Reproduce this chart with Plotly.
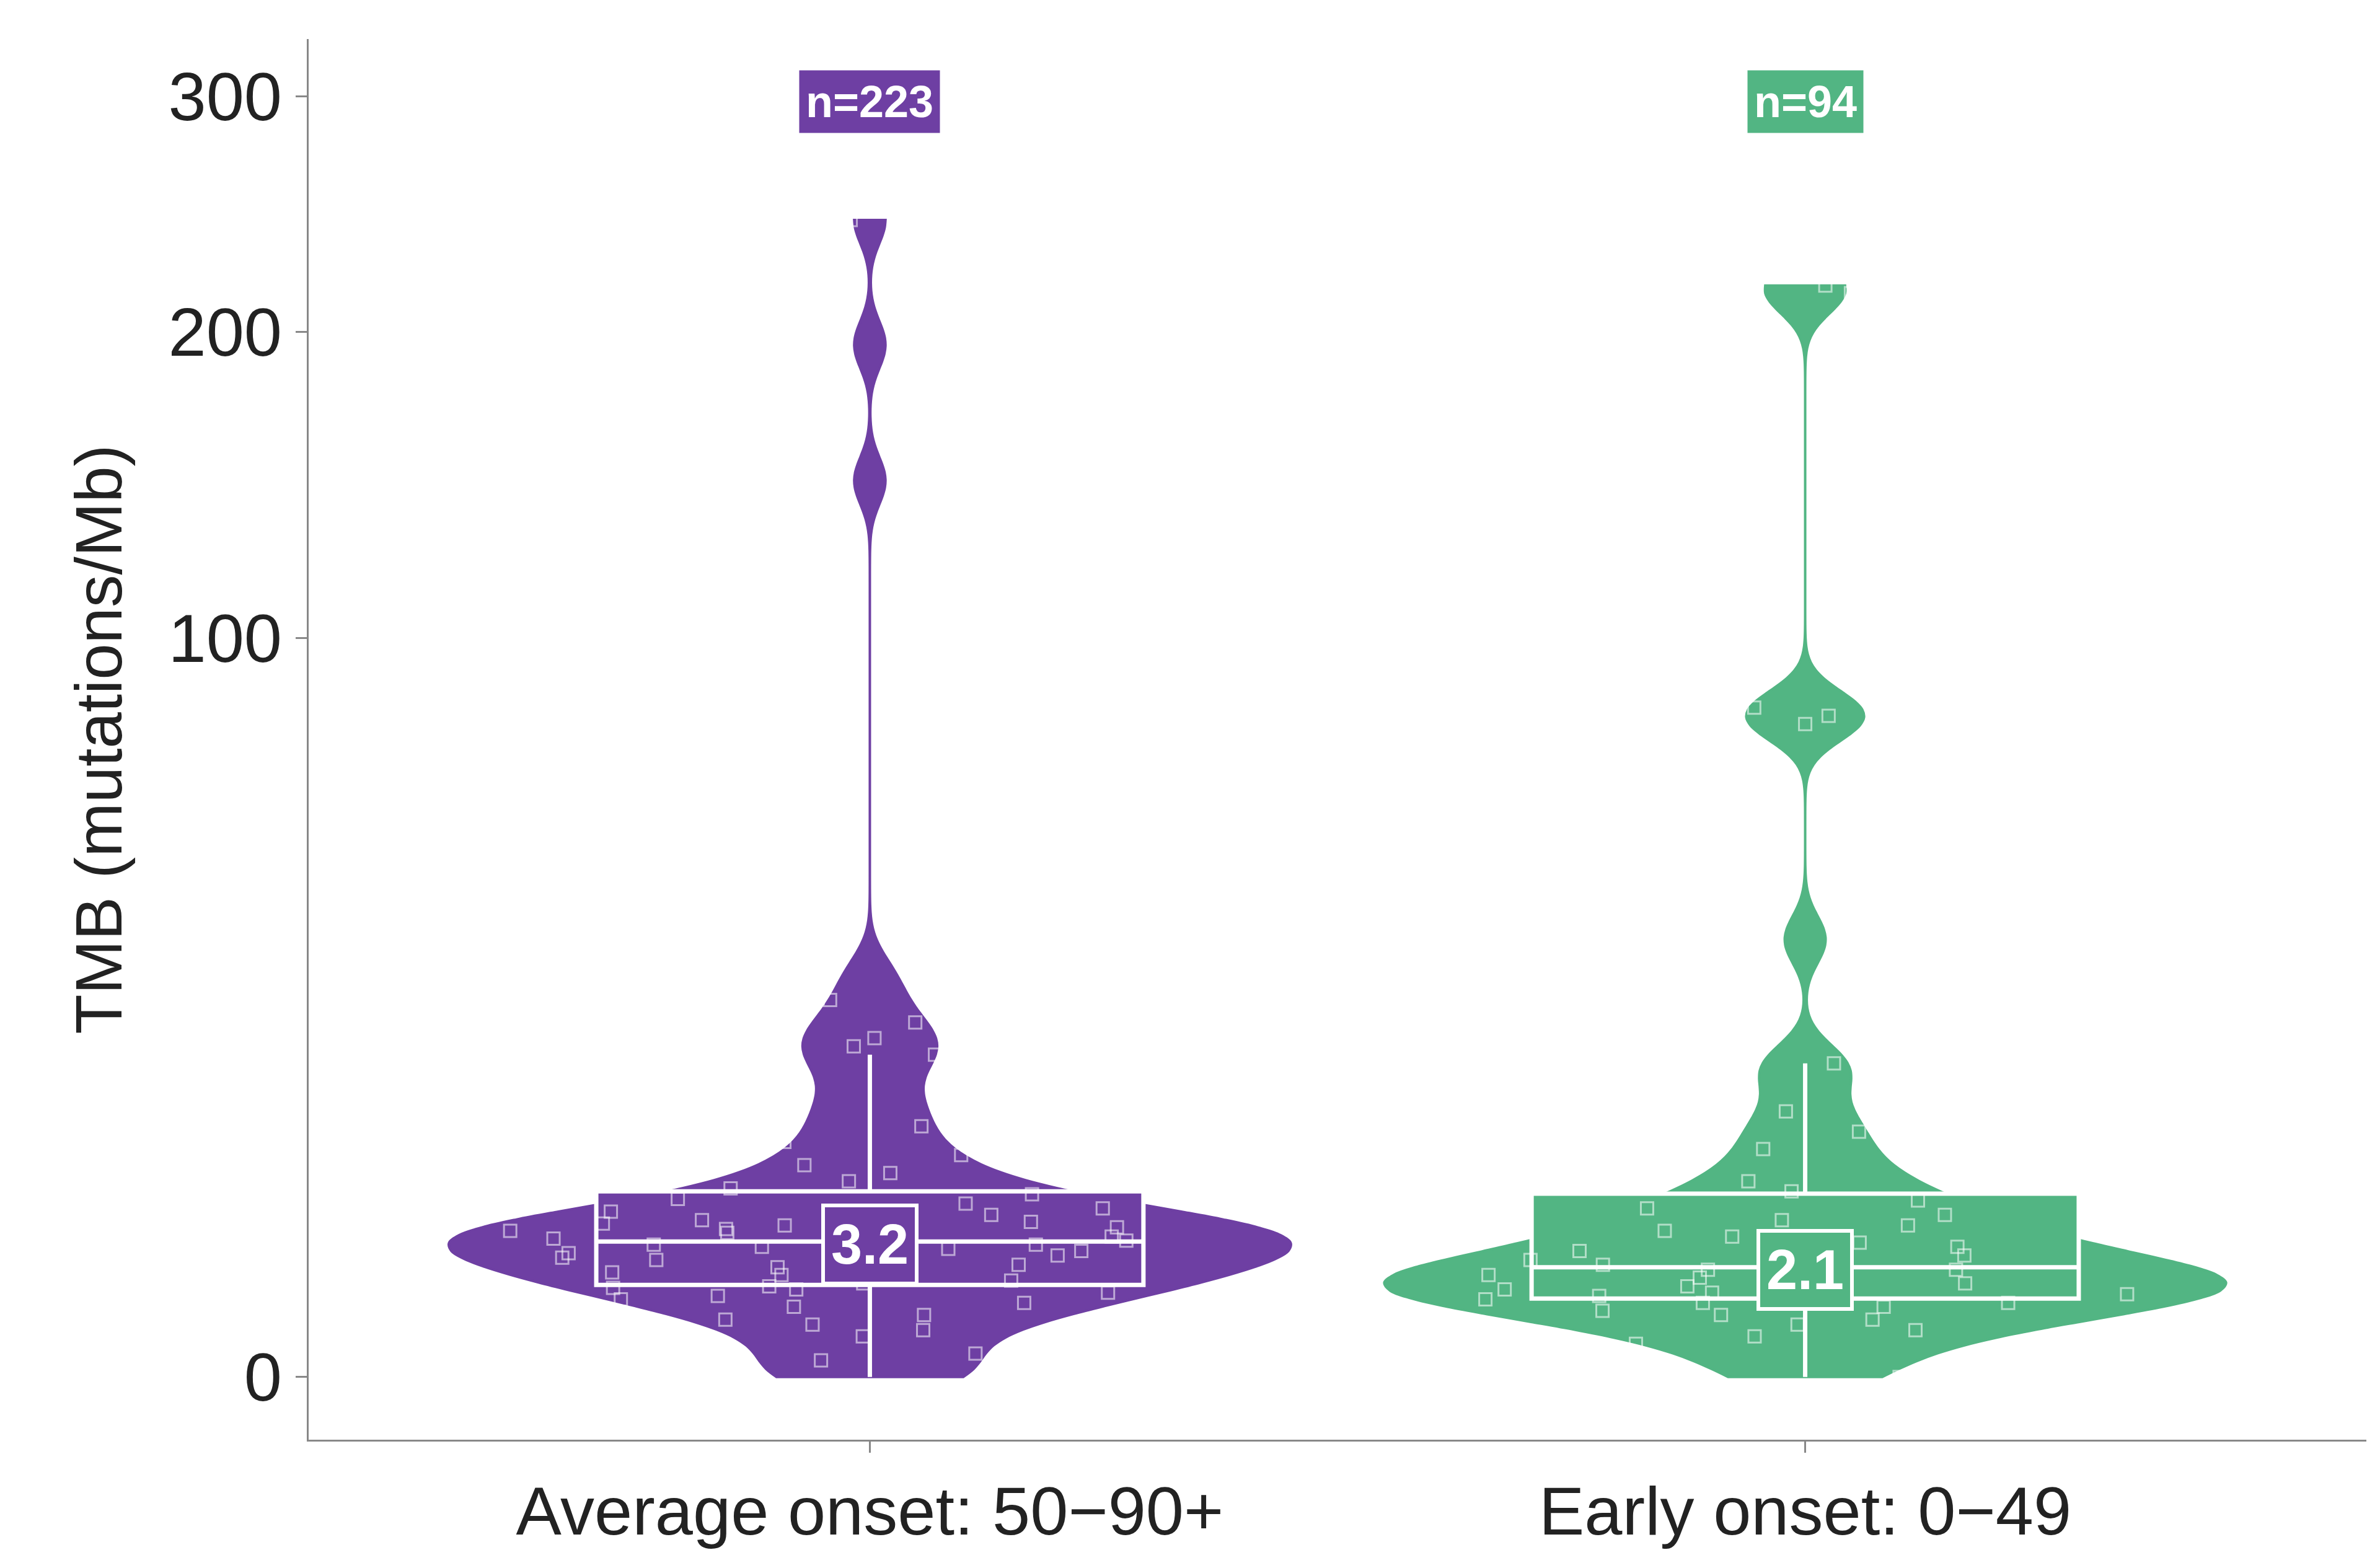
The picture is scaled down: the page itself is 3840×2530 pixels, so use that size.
import numpy as np
import plotly.graph_objects as go

groups = ["Average onset: 50\u221290+", "Early onset: 0\u221249"]
n_labels = ["n=223", "n=94"]
median_labels = ["3.2", "2.1"]
colors = ["#6E3FA3", "#52B583"]

# TMB values (mutations/Mb)
tmb_average = [0, 0, 0, 0, 0.05, 0.1, 0.3, 0.4, 0.5, 0.6, 0.7, 0.9,
               1.0, 1.1, 1.2, 1.3, 1.4, 1.45, 1.5, 1.6, 1.7, 1.8, 1.9, 2.0,
               2.1, 2.2, 2.3, 2.4, 2.5, 2.6, 2.7, 2.8, 2.9, 3.0, 3.1, 3.2,
               3.2, 3.3, 3.4, 3.5, 3.6, 3.7, 3.8, 3.9, 4.0, 4.1, 4.2, 4.3,
               4.4, 4.5, 4.6, 4.8, 5.0, 5.2, 5.5, 5.8, 6.1, 6.5, 7.0, 7.6,
               8.2, 9.0, 10.1, 11.5, 13.0, 14.2, 17, 19, 20, 21, 23, 26,
               30, 147, 195, 245]
tmb_early = [0, 0, 0.05, 0.2, 0.3, 0.4, 0.5, 0.6, 0.7, 0.8, 0.9, 1.0,
             1.0, 1.1, 1.2, 1.25, 1.3, 1.4, 1.5, 1.5, 1.6, 1.7, 1.8, 1.9,
             2.0, 2.1, 2.1, 2.2, 2.3, 2.5, 2.7, 2.9, 3.1, 3.3, 3.6, 3.9,
             4.2, 4.5, 4.8, 5.2, 5.7, 6.3, 7.0, 8.0, 9.5, 11.0, 12.9, 17,
             18, 35, 78, 80, 82, 215, 218]
medians = [3.2, 2.1]
y_ticks = [0, 100, 200, 300]

fig = go.Figure()
for name, vals, col in zip(groups, [tmb_average, tmb_early], colors):
    fig.add_trace(go.Violin(
        x=[name] * len(vals),
        y=np.sqrt(vals),
        fillcolor=col,
        line=dict(color=col, width=4),
        opacity=1,
        width=0.9,
        bandwidth=0.32,
        spanmode="hard",
        scalemode="width",
        points="all",
        pointpos=0,
        jitter=0.9,
        marker=dict(symbol="square-open", color="rgba(255,255,255,0.55)", size=20,
                    line=dict(width=3)),
        box=dict(visible=True, width=0.65, fillcolor=col,
                 line=dict(color="white", width=7)),
        meanline=dict(visible=False),
        showlegend=False,
        hoverinfo="skip",
    ))

for name, nl, ml, med, col in zip(groups, n_labels, median_labels, medians, colors):
    fig.add_annotation(x=name, y=17.25, text=f"<b>{nl}</b>", showarrow=False,
                       font=dict(size=72, color="white", family="Liberation Sans"),
                       bgcolor=col, borderpad=10)
    fig.add_annotation(x=name, y=np.sqrt(med), text=f"<b>{ml}</b>", showarrow=False,
                       font=dict(size=90, color="white", family="Liberation Sans"),
                       bgcolor=col, bordercolor="white", borderwidth=6, borderpad=10)

fig.update_layout(
    width=3840, height=2530,
    plot_bgcolor="white", paper_bgcolor="white",
    margin=dict(l=490, r=30, t=55, b=215),
    font=dict(family="Liberation Sans", size=110, color="#222222"),
)
fig.update_xaxes(showline=True, linecolor="#888888", linewidth=3,
                 ticks="outside", tickcolor="#888888", ticklen=18, tickwidth=3,
                 range=[-0.6, 1.6], tickfont=dict(size=110))
fig.update_yaxes(title=dict(text="TMB (mutations/Mb)", font=dict(size=105), standoff=40),
                 showline=True, linecolor="#888888", linewidth=3,
                 ticks="outside", tickcolor="#888888", ticklen=18, tickwidth=3,
                 tickvals=np.sqrt(y_ticks), ticktext=[str(t) for t in y_ticks],
                 range=[-0.85, 18.1], showgrid=False, zeroline=False,
                 tickfont=dict(size=110))

fig.write_html("out.html")
